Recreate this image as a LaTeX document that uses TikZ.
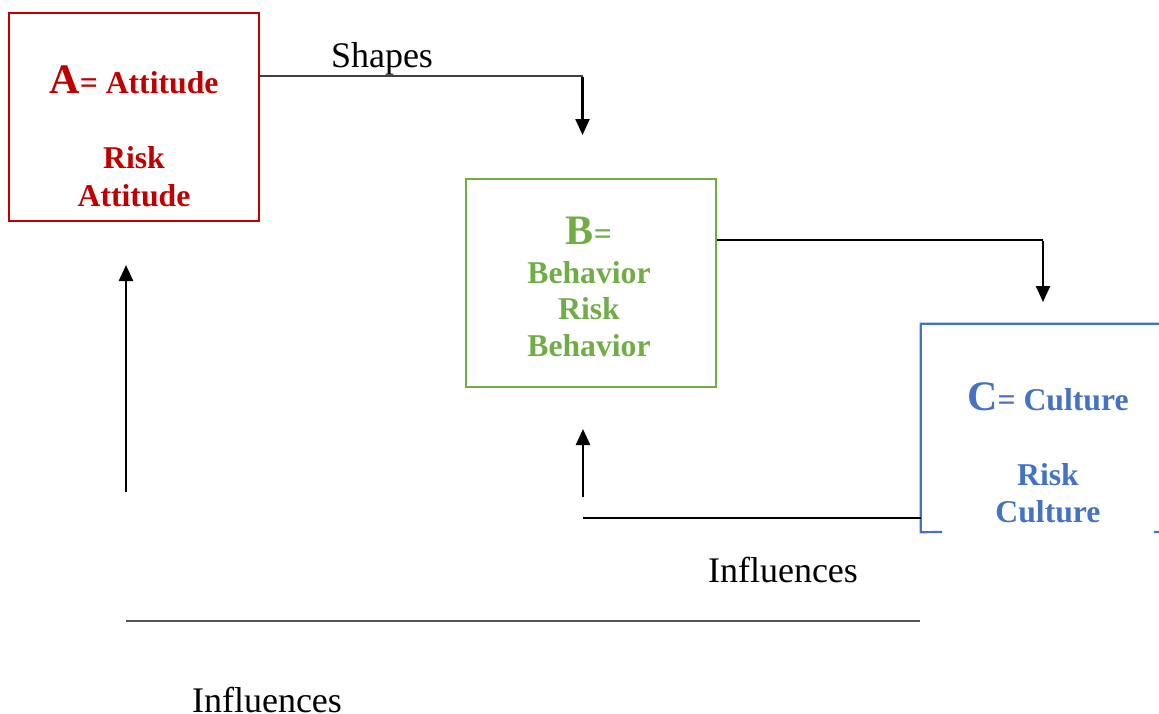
\documentclass[tikz,border=0pt]{standalone}
\usepackage{fontspec}
\setmainfont{Liberation Serif}
\usetikzlibrary{arrows.meta}
\definecolor{cred}{HTML}{C00000}
\definecolor{cgreen}{HTML}{70AD47}
\definecolor{cblue}{HTML}{4472C4}
\definecolor{thinc}{HTML}{404040}
\tikzset{
  boxA/.style={draw=cred, line width=2.2pt, minimum width=250pt, minimum height=208pt, inner sep=0pt},
  boxB/.style={draw=cgreen, line width=2.2pt, minimum width=250pt, minimum height=208pt, inner sep=0pt},
  boxC/.style={draw=none, minimum width=254pt, minimum height=208pt, inner sep=0pt},
  boxCline/.style={draw=cblue, line width=2.2pt},
  txt/.style={anchor=base, inner sep=0pt, font=\bfseries\fontsize{31.7}{36}\selectfont},
  lbl/.style={anchor=base, inner sep=0pt, font=\fontsize{36}{40}\selectfont},
  thinline/.style={draw=thinc, line width=1.3pt},
  arr/.style={draw=black, line width=2.4pt, -{Triangle[width=14pt,length=16pt]}}
}
\newcommand{\bigletter}[1]{{\fontsize{42}{42}\selectfont #1}}
\begin{document}
\begin{tikzpicture}[x=1pt,y=-1pt]
\useasboundingbox (0,0) rectangle (1159,713);
\fill[white] (0,0) rectangle (1159,713);
\clip (0,0) rectangle (1159,713);
% boxes
\node[boxA] (A) at (134,117) {};
\node[boxB] (B) at (591,283) {};
\node[boxC] (C) at (1048,428) {};
\draw[boxCline] (942,532) -- (C.south west) -- (C.north west) -- (C.north east) -- (C.south east) -- (1154,532);
% texts in boxes
\node[txt, text=cred] (A1) at (134,93) {\bigletter{A}= Attitude};
\node[txt, text=cred] (A2) at (134,168) {Risk};
\node[txt, text=cred] (A3) at (134,206) {Attitude};
\node[txt, text=cgreen] (B1) at (589,244) {\bigletter{B}=};
\node[txt, text=cgreen] (B2) at (589,283) {Behavior};
\node[txt, text=cgreen] (B3) at (589,319) {Risk};
\node[txt, text=cgreen] (B4) at (589,356) {Behavior};
\node[txt, text=cblue] (C1) at (1048,410) {\bigletter{C}= Culture};
\node[txt, text=cblue] (C2) at (1048,485) {Risk};
\node[txt, text=cblue] (C3) at (1048,522) {Culture};
% labels
\node[lbl] (shapes) at (382,67) {Shapes};
\node[lbl] (inf1) at (783,582) {Influences};
\node[lbl] (inf2) at (267,712) {Influences};
% connectors
\coordinate (sTurn) at (582.5,76);
\coordinate (sEnd) at (582.5,135);
\draw[thinline] (A.east |- sTurn) -- (sTurn);
\draw[arr] ([yshift=-0.6pt]sTurn) -- (sEnd);
\coordinate (bTurn) at (1043,240);
\coordinate (bEnd) at (1043,302);
\draw[thinline, draw=black] (B.east |- bTurn) -- (bTurn);
\draw[arr] ([yshift=-0.6pt]bTurn) -- (bEnd);
\coordinate (aStart) at (126,492);
\coordinate (aEnd) at (126,265);
\draw[arr] (aStart) -- (aEnd);
\coordinate (bStart) at (583,497);
\coordinate (bUp) at (583,429);
\draw[arr] (bStart) -- (bUp);
\coordinate (cLine) at (583,518);
\draw[thinline, draw=black] (cLine) -- (C.west |- cLine);
\coordinate (lStart) at (126,621);
\coordinate (lEnd) at (920,621);
\draw[thinline, draw=thinc!90] (lStart) -- (lEnd);
\end{tikzpicture}
\end{document}
